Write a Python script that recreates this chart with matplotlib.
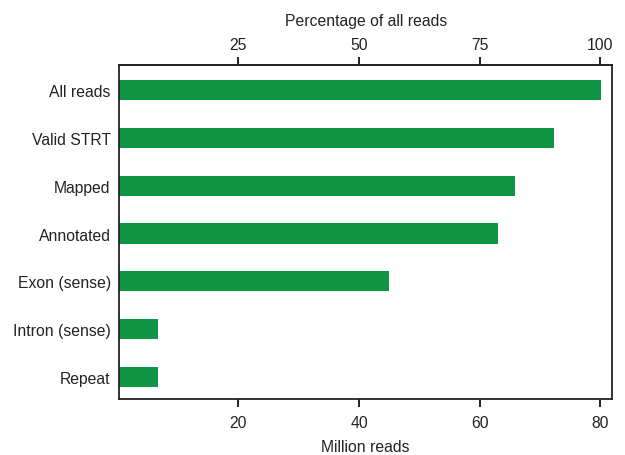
import matplotlib
matplotlib.use("Agg")
import matplotlib.pyplot as plt

categories = ["All reads", "Valid STRT", "Mapped", "Annotated", "Exon (sense)", "Intron (sense)", "Repeat"]
million_reads = [80.1, 72.4, 65.9, 63.1, 45.0, 6.6, 6.6]
total_reads = 80.0
bottom_ticks = [20, 40, 60, 80]
top_ticks = [25, 50, 75, 100]

plt.rcParams['font.family'] = ['Liberation Sans', 'DejaVu Sans']
text_color = "#222222"
bar_color = "#0f9444"
fs = 11.3

fig = plt.figure(figsize=(6.25, 4.56), dpi=100)
ax = fig.add_axes([0.1904, 0.1228, 0.9797 - 0.1904, 0.856 - 0.1228])

ypos = list(range(len(categories)))
ax.barh(ypos, million_reads, height=0.42, color=bar_color, edgecolor="none")
ax.set_ylim(6.46, -0.53)
ax.set_xlim(0.2, 82.0)
ax.set_yticks(ypos)
ax.set_yticklabels(categories, fontsize=fs, color=text_color)
ax.tick_params(axis='y', length=0, pad=6)
ax.set_xticks(bottom_ticks)
ax.tick_params(axis='x', direction='out', length=6, width=1.4, color=text_color,
               labelsize=fs, labelcolor=text_color, pad=5.5)
ax.set_xlabel("Million reads", fontsize=fs, color=text_color, labelpad=6.5)
for s in ax.spines.values():
    s.set_linewidth(1.3)
    s.set_color(text_color)

top = ax.secondary_xaxis('top', functions=(lambda m: m / total_reads * 100,
                                             lambda p: p * total_reads / 100))
top.set_xticks(top_ticks)
top.tick_params(direction='out', length=6, width=1.4, color=text_color,
                labelsize=fs, labelcolor=text_color, pad=3)
top.set_xlabel("Percentage of all reads", fontsize=fs, color=text_color, labelpad=9)
top.spines['top'].set_linewidth(1.3)
top.spines['top'].set_color(text_color)

fig.savefig("out.png", dpi=100)
